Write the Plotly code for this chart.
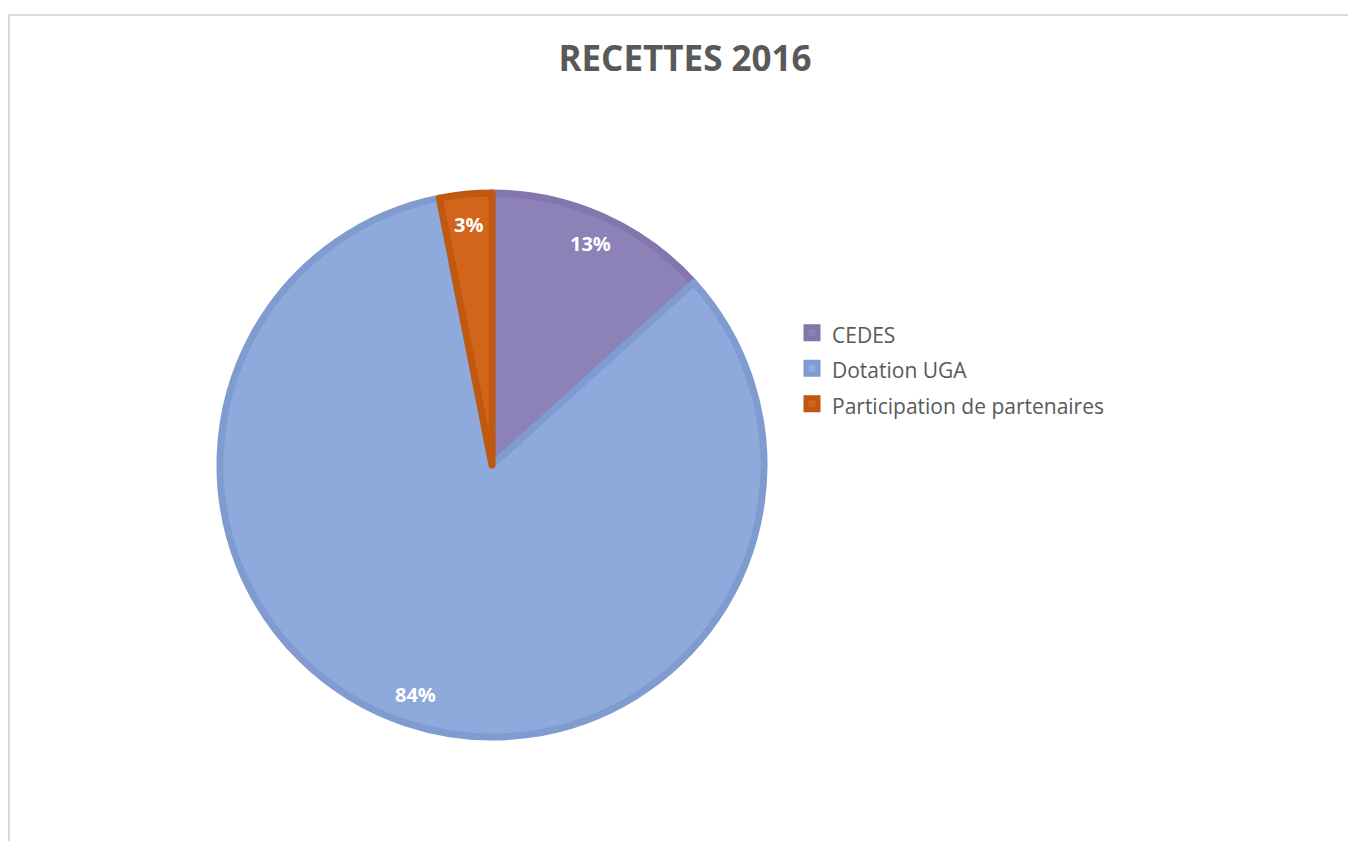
import math
import plotly.graph_objects as go

# RECETTES 2016 - parts
categories = ["CEDES", "Dotation UGA", "Participation de partenaires"]
values = [13.3, 83.6, 3.1]

fill_colors = ["#8C82B8", "#8EA9DB", "#D2651A"]
edge_colors = ["#8276AC", "#7F9BCF", "#C0580F"]

W, H = 1356, 841
cx, cy, r = 484, 457, 272  # pie centre / radius in pixels (page has an 8px body margin)

fig = go.Figure()

fig.add_trace(go.Pie(
    labels=[f"<span style='font-size:21px'>{c}</span>" for c in categories],
    values=values,
    sort=False,
    direction="clockwise",
    rotation=0,
    marker=dict(colors=fill_colors, line=dict(color=edge_colors, width=7)),
    textinfo="none",
    domain=dict(x=[(cx - r) / W, (cx + r) / W], y=[1 - (cy + r) / H, 1 - (cy - r) / H]),
    hovertemplate="%{label}: %{percent:.0%}<extra></extra>",
))

# percentage labels, placed along each slice's bisector like the Excel "best fit"
total = sum(values)
cum = 0
for v in values:
    mid = (cum + v / 2) / total * 2 * math.pi
    cum += v
    d = 0.88 * (r + 3)
    fig.add_annotation(
        x=(cx + d * math.sin(mid)) / W, y=1 - (cy - d * math.cos(mid)) / H,
        xref="paper", yref="paper", xanchor="center", yanchor="middle", showarrow=False,
        text=f"<b>{round(100 * v / total)}%</b>",
        font=dict(family="Open Sans", size=20, color="white"),
    )

# light frame around the chart area
fig.add_shape(type="rect", xref="paper", yref="paper",
              x0=1 / W, x1=1.02, y0=-0.02, y1=1 - 7 / H,
              line=dict(color="#D9D9D9", width=2), fillcolor="rgba(0,0,0,0)", layer="below")

fig.update_layout(
    width=W, height=H,
    margin=dict(l=0, r=0, t=0, b=0),
    paper_bgcolor="white", plot_bgcolor="white",
    title=dict(text="<b>RECETTES 2016</b>", x=677 / W, xanchor="center", y=1 - 51 / H, yanchor="middle",
               font=dict(family="Open Sans", size=35, color="#595959")),
    legend=dict(x=784 / W, xanchor="left", y=1 - 302 / H, yanchor="top",
                font=dict(family="Open Sans", size=25, color="#595959"),
                bgcolor="rgba(0,0,0,0)"),
    font=dict(family="Open Sans", color="#595959"),
)

fig.write_html("out.html")
